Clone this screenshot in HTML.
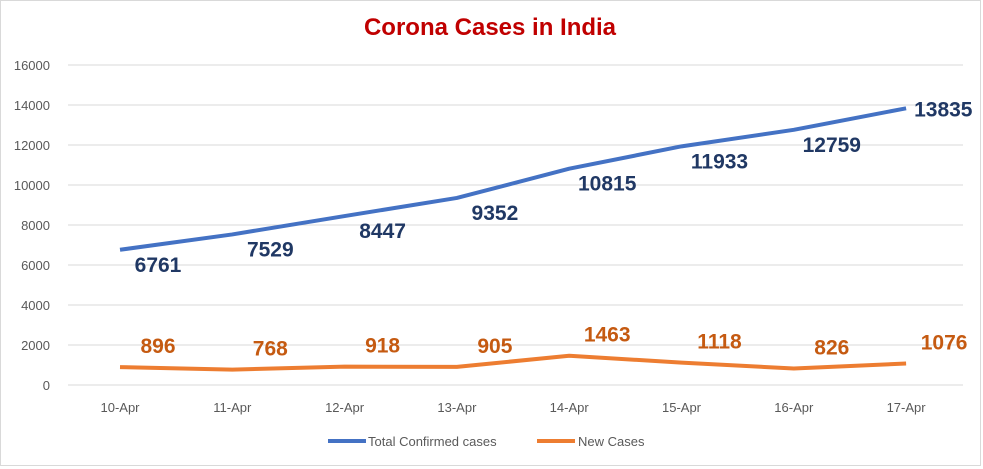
<!DOCTYPE html>
<html><head><meta charset="utf-8"><style>
body{margin:0;background:#fff;}
svg{display:block;font-family:"Liberation Sans",Calibri,sans-serif;}
</style></head><body>
<svg width="983" height="469">
<rect x="0.5" y="0.5" width="980" height="465" fill="#fff" stroke="#d9d9d9"/>
<text x="490" y="35" text-anchor="middle" font-size="24" font-weight="bold" fill="#c00000">Corona Cases in India</text>
<g id="grid"></g><g id="series"></g>
<g>
<line x1="328" y1="441" x2="366" y2="441" stroke="#4472c4" stroke-width="4"/>
<text x="368" y="446" font-size="13" fill="#595959">Total Confirmed cases</text>
<line x1="537" y1="441" x2="575" y2="441" stroke="#ed7d31" stroke-width="4"/>
<text x="578" y="446" font-size="13" fill="#595959">New Cases</text>
</g>
</svg>
<script>
const categories=["10-Apr","11-Apr","12-Apr","13-Apr","14-Apr","15-Apr","16-Apr","17-Apr"];
const totalCases=[6761,7529,8447,9352,10815,11933,12759,13835];
const newCases=[896,768,918,905,1463,1118,826,1076];
const yTicks=[0,2000,4000,6000,8000,10000,12000,14000,16000];
const NS="http://www.w3.org/2000/svg";
const x=i=>120+i*112.3;
const y=v=>385-v*0.02;
function mk(t,a,p){const e=document.createElementNS(NS,t);for(const k in a)e.setAttribute(k,a[k]);p.appendChild(e);return e;}
const g=document.getElementById('grid'),s=document.getElementById('series');
yTicks.forEach(v=>{
 const l=mk('line',{x1:68,x2:963,y1:y(v),y2:y(v),stroke:'#d9d9d9','stroke-width':1},g);
 
 
 const t=mk('text',{x:50,y:y(v)+5,'text-anchor':'end','font-size':13,fill:'#595959'},g);
 t.textContent=v;
 
 
});
categories.forEach((c,i)=>{
 const t=mk('text',{x:x(i),y:412,'text-anchor':'middle','font-size':13,fill:'#595959'},g);
 t.textContent=c;
 
 
});
function series(vals,color,name,lab,labColor){
 const p=mk('polyline',{points:vals.map((v,i)=>x(i)+','+y(v)).join(' '),fill:'none',stroke:color,'stroke-width':4,'stroke-linejoin':'round'},s);
 
 
 vals.forEach((v,i)=>{
  const [dx,dy,anc]=lab(i,vals.length);
  const t=mk('text',{x:x(i)+dx,y:y(v)+dy,'text-anchor':anc,'font-size':21,'font-weight':'bold',fill:labColor},s);
  t.textContent=v;
  
  
 });
}
series(totalCases,'#4472c4','total-confirmed',(i,n)=>i==n-1?[8,8,'start']:[38,22,'middle'],'#203864');
series(newCases,'#ed7d31','new-cases',()=>[38,-14,'middle'],'#c55a11');
</script>
</body></html>
